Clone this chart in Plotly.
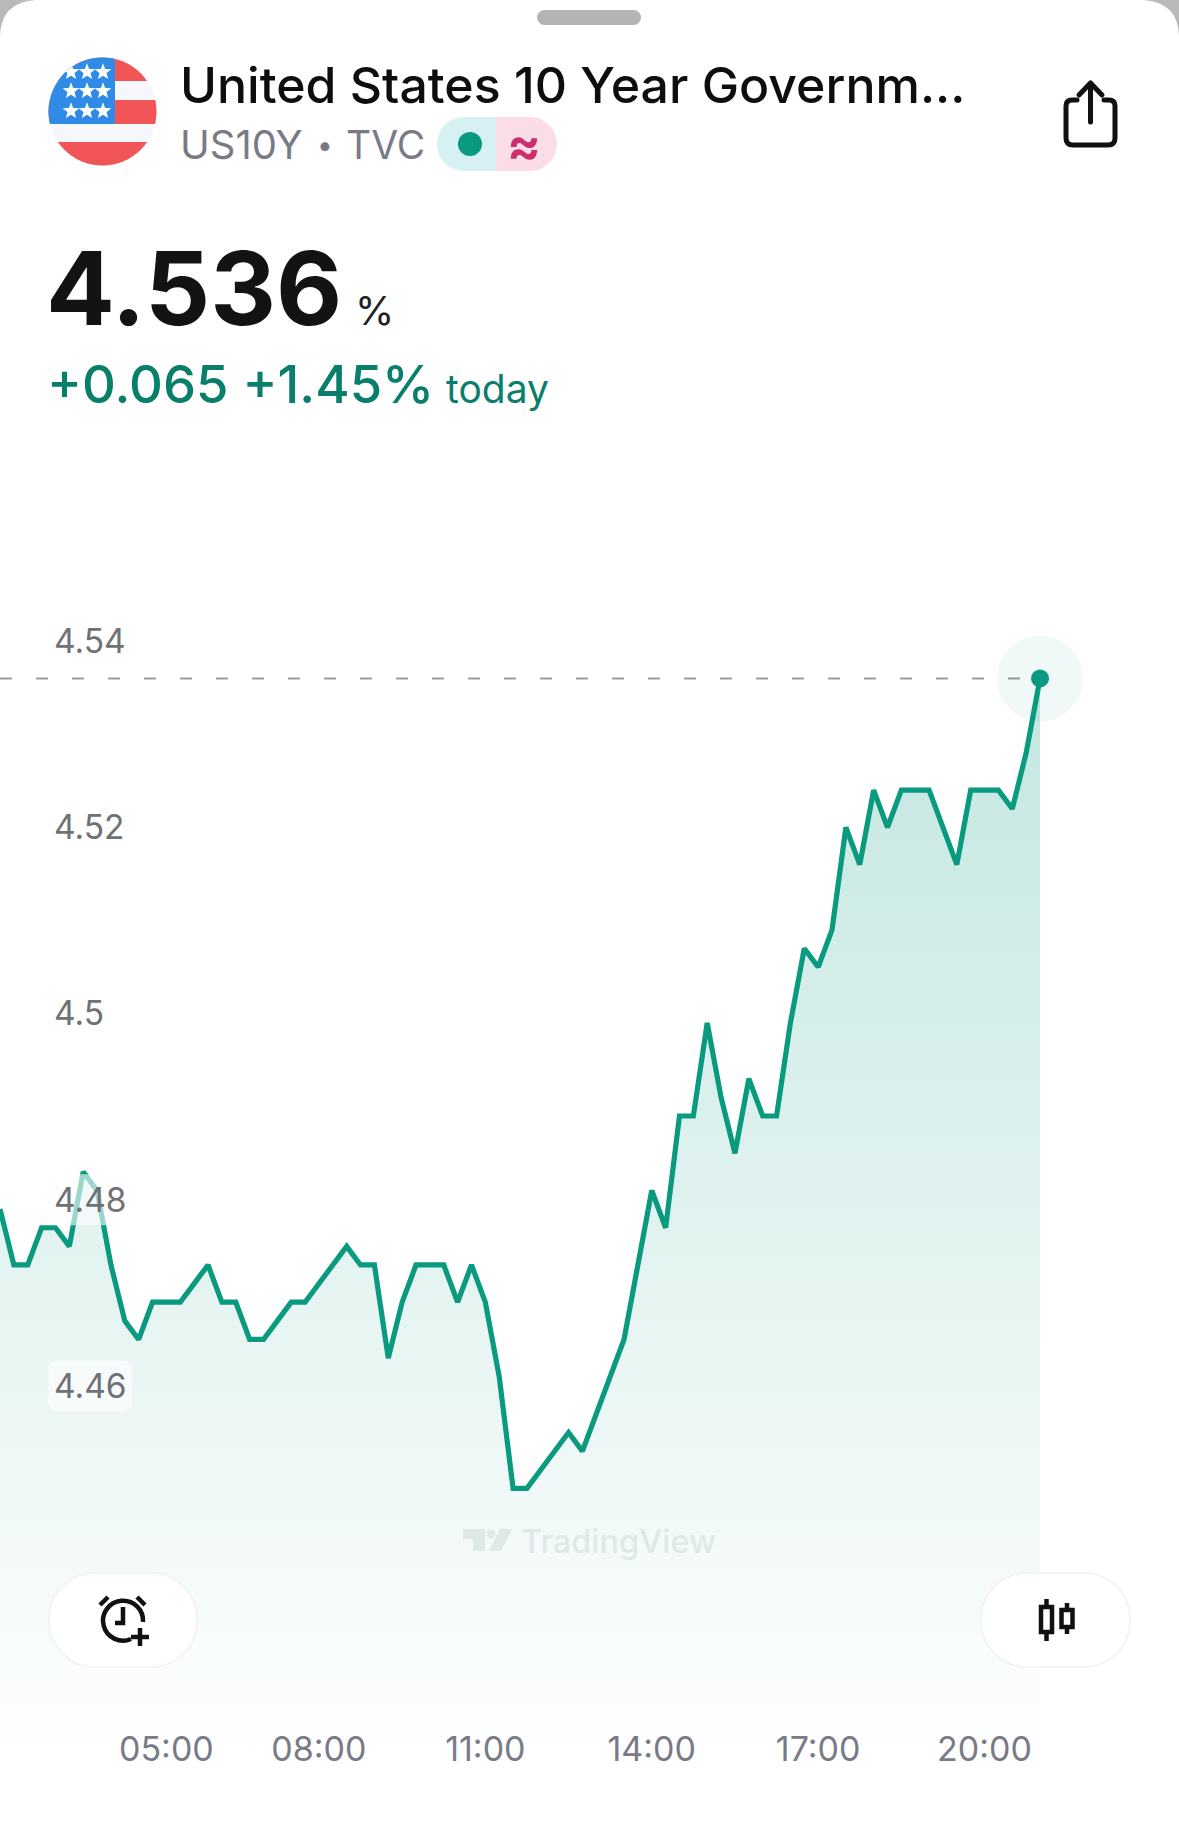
import base64, math
import plotly.graph_objects as go

W, H = 1179, 1822

times = ["02:00","02:15","02:30","02:45","03:00","03:15","03:30","03:45","04:00","04:15","04:30","04:45",
         "05:00","05:15","05:30","05:45","06:00","06:30","06:45","07:00","07:15","07:30","07:45",
         "08:00","08:15","08:30","08:45","09:00","09:15","09:30","09:45","10:00","10:15","10:30","10:45",
         "11:00","11:15","11:30","11:45","12:00","12:15","12:30","12:45","13:00","13:15","13:30","13:45",
         "14:00","14:15","14:30","14:45","15:00","15:15","15:30","15:45","16:00","16:15","16:30","16:45",
         "17:00","17:15","17:30","17:45","18:00","18:15","18:30","18:45","19:00","19:15","19:30","19:45",
         "20:00","20:15","20:30","20:45","21:00"]
yields = [4.479,4.473,4.473,4.477,4.477,4.475,4.483,4.481,4.473,4.467,4.465,4.469,
          4.469,4.469,4.471,4.473,4.469,4.469,4.465,4.465,4.467,4.469,4.469,
          4.471,4.473,4.475,4.473,4.473,4.463,4.469,4.473,4.473,4.473,4.469,4.473,
          4.469,4.461,4.449,4.449,4.451,4.453,4.455,4.453,4.457,4.461,4.465,4.473,
          4.481,4.477,4.489,4.489,4.499,4.491,4.485,4.493,4.489,4.489,4.499,4.507,
          4.505,4.509,4.520,4.516,4.524,4.520,4.524,4.524,4.524,4.520,4.516,4.524,
          4.524,4.524,4.522,4.528,4.536]
x_tick_labels = ["05:00","08:00","11:00","14:00","17:00","20:00"]
y_ticks = [4.54,4.52,4.50,4.48,4.46]
y_tick_labels = ["4.54","4.52","4.5","4.48","4.46"]
pill_values = [4.48,4.46]

LINE = "#0a9a80"
GREY = "#787b86"
xs = list(range(len(times)))

# pixel <-> axis calibration of the full-page plot area
STEP, X0 = 13.867, 0.0
PX_PER_UNIT, Y454 = 9310.0, 641.2
def x_of(px): return (px - X0) / STEP
def y_of(py): return 4.54 - (py - Y454) / PX_PER_UNIT

def round_rect(x0, x1, y0, y1, r):
    px, py = [], []
    for cx, cy, a0 in [(x1-r, y0+r, -90), (x1-r, y1-r, 0), (x0+r, y1-r, 90), (x0+r, y0+r, 180)]:
        for k in range(7):
            t = math.radians(a0 + 15*k)
            px.append(x_of(cx + r*math.cos(t))); py.append(y_of(cy + r*math.sin(t)))
    px.append(px[0]); py.append(py[0])
    return px, py

fig = go.Figure()
fig.add_trace(go.Scatter(
    x=xs, y=yields, mode="lines", line=dict(color=LINE, width=5.2, shape="linear"),
    fill="tozeroy", hoverinfo="skip",
    fillgradient=dict(type="vertical", start=y_of(1770), stop=yields[-1],
                      colorscale=[[0, "rgba(8,153,129,0)"], [1, "rgba(8,153,129,0.24)"]]),
))
for v in pill_values:
    cy = Y454 + (4.54 - v) * PX_PER_UNIT
    px, py = round_rect(48, 132, cy-25.5, cy+25.5, 9)
    fig.add_trace(go.Scatter(x=px, y=py, mode="lines", line=dict(width=0), fill="toself",
                             fillcolor="rgba(255,255,255,0.6)", hoverinfo="skip"))
fig.add_trace(go.Scatter(x=[xs[-1]], y=[yields[-1]], mode="markers", hoverinfo="skip",
                         marker=dict(size=86, color="rgba(8,153,129,0.06)", line=dict(width=0))))
fig.add_trace(go.Scatter(x=[xs[-1]], y=[yields[-1]], mode="markers", hoverinfo="skip",
                         marker=dict(size=18, color=LINE, line=dict(width=0))))

fig.add_shape(type="line", layer="below", xref="x", yref="y", x0=x_of(0), x1=xs[-1],
              y0=yields[-1], y1=yields[-1], line=dict(color="#9b9b9b", width=2, dash="12px,24px"))

# Overlay with the app's pictograms
stars = ""
for row, sy in enumerate([72, 91, 111]):
    for sx in [71, 87, 103]:
        pts = []
        for k in range(10):
            r = 8.8 if k % 2 == 0 else 3.7
            t = math.radians(-90 + 36*k)
            pts.append(f"{sx + r*math.cos(t):.1f},{sy + r*math.sin(t):.1f}")
        stars += f'<polygon points="{" ".join(pts)}" fill="#fff"/>'
svg = f'''<svg xmlns="http://www.w3.org/2000/svg" width="{W}" height="{H}" viewBox="0 0 {W} {H}">
<path d="M0 0H36Q0 2 0 38Z M{W} 0H{W-36}Q{W} 2 {W} 38Z" fill="#b9b9b9"/>
<rect x="537" y="10" width="104" height="15" rx="7.5" fill="#b4b4b4"/>
<clipPath id="c"><circle cx="102.5" cy="111.500" r="54"/></clipPath>
<g clip-path="url(#c)">
<rect x="48" y="57" width="110" height="110" fill="#f6f7fb"/>
<rect x="48" y="57" width="110" height="24" fill="#f25555"/>
<rect x="48" y="100" width="110" height="24" fill="#f25555"/>
<rect x="48" y="142" width="110" height="25" fill="#f25555"/>
<rect x="48" y="57" width="67" height="67" fill="#2f8be6"/>
{stars}
</g>
<path d="M465 117H496V171H465A27 27 0 0 1 437 144A27 27 0 0 1 465 117Z" fill="#d6f0f4"/>
<path d="M496 117H529A27 27 0 0 1 557 144A27 27 0 0 1 529 171H496Z" fill="#fbdde8"/>
<circle cx="470" cy="144" r="12" fill="#0a9a80"/>
<g fill="none" stroke="#111" stroke-width="5" stroke-linecap="round" stroke-linejoin="round">
<path d="M1077 100H1072Q1066 100 1066 106V138Q1066 145 1073 145H1108Q1115 145 1115 138V106Q1115 100 1109 100H1104"/>
<path d="M1090.500 122V84M1079 95L1090.500 83L1102 95"/>
</g>
<rect x="49" y="1573" width="148" height="94" rx="46" fill="#fff" stroke="#f0f1f1" stroke-width="1.5"/>
<rect x="981" y="1573" width="149" height="94" rx="46" fill="#fff" stroke="#f0f1f1" stroke-width="1.5"/>
<g fill="none" stroke="#111" stroke-width="4.500">
<path d="M131 1639A20 20 0 1 1 143 1622"/>
<path d="M123 1607V1623H115M100 1605L108 1597M145 1605L137 1597M131 1637H149M140 1628V1646" stroke-linecap="butt"/>
</g>
<g fill="none" stroke="#111" stroke-width="4.500">
<rect x="1041" y="1607" width="11" height="25"/>
<path d="M1046.500 1599V1607M1046.500 1632V1641M1067 1603V1610M1067 1627V1634"/>
<rect x="1061.500" y="1610" width="11" height="17"/>
</g>
<g fill="#dfe9e8"><path d="M463 1529H485V1551H473V1539H463Z"/><circle cx="491" cy="1534" r="4.500"/><path d="M489 1551L500 1529H512L501 1551Z"/></g>
</svg>'''
uri = "data:image/svg+xml;base64," + base64.b64encode(svg.encode()).decode()
fig.add_layout_image(source=uri, xref="paper", yref="paper", x=0, y=1, sizex=1, sizey=1,
                     xanchor="left", yanchor="top", sizing="stretch", layer="above")

def label(text, px, py, size, color, weight=400, family="Inter", anchor="left"):
    fig.add_annotation(xref="paper", yref="paper", x=px/W, y=1-py/H, text=text, showarrow=False,
                       xanchor=anchor, yanchor="middle", align="left", borderpad=0,
                       font=dict(family=family, size=size, color=color, weight=weight))

label("United States 10 Year Governm...", 179, 85, 50, "#0e0e0e", 500)
label("US10Y", 179, 145, 40, GREY)
label("•", 316, 145, 28, GREY)
label("TVC", 345, 145, 39, GREY)
label("≈", 524, 145, 50, "#cc2e6e", 700, anchor="center")
label("4.536", 45, 288, 102, "#131313", 700)
label("%", 354, 310, 40, "#222222")
label("+0.065 +1.45%", 46, 384, 52.5, "#087e6b", 500)
label("today", 445, 389, 39, "#087e6b")
label("TradingView", 520, 1541, 32.5, "#dfe9e8", 500)

fig.update_layout(
    width=W, height=H, margin=dict(l=0, r=0, t=0, b=0, pad=0), autosize=False,
    paper_bgcolor="white", plot_bgcolor="white", showlegend=False, hovermode=False,
    xaxis=dict(range=[x_of(0), x_of(W)], domain=[0, 1], anchor="free", position=1-1726/H, side="bottom",
               tickmode="array", tickvals=[times.index(t) for t in x_tick_labels], ticktext=x_tick_labels,
               showgrid=False, zeroline=False, showline=False, ticks="", ticklabeloverflow="allow",
               tickfont=dict(family="Inter", size=34, color=GREY), fixedrange=True),
    yaxis=dict(range=[y_of(H), y_of(0)], domain=[0, 1], anchor="free", position=0, side="left",
               ticklabelposition="inside", ticklabelstandoff=50,
               tickmode="array", tickvals=y_ticks, ticktext=y_tick_labels,
               showgrid=False, zeroline=False, showline=False, ticks="",
               tickfont=dict(family="Inter", size=33.5, color="#6f7176"), fixedrange=True),
)
fig.write_html("out.html", config=dict(displayModeBar=False),
               post_script="document.body.style.margin='0';document.body.style.overflow='hidden';")
